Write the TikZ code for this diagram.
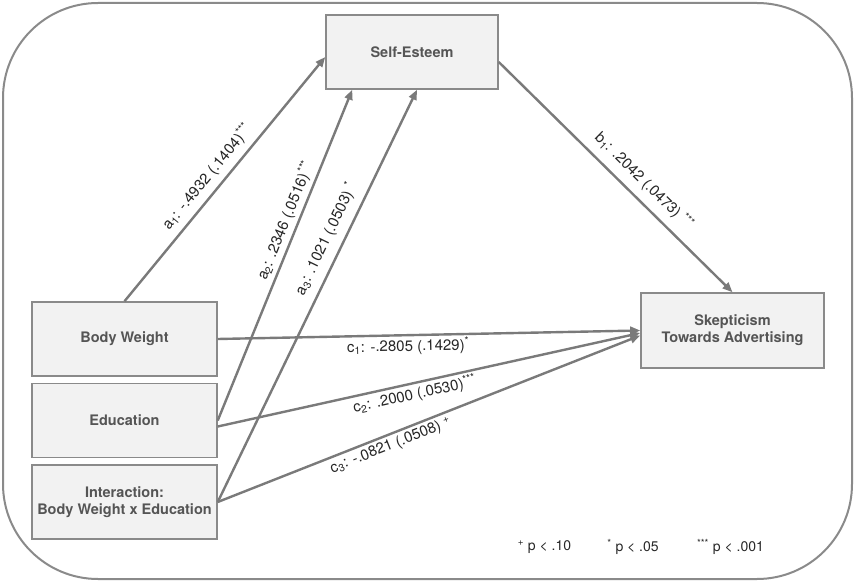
\documentclass[tikz,border=0pt]{standalone}
\usepackage{fontspec}
\setmainfont{TeX Gyre Heros}
\usetikzlibrary{arrows.meta, positioning, calc}
\definecolor{linegray}{RGB}{122, 122, 122}
\definecolor{boxgray}{RGB}{138, 138, 138}
\definecolor{boxfill}{RGB}{242, 242, 242}
\definecolor{labelgray}{RGB}{85, 85, 85}

\begin{document}
\begin{tikzpicture}[x=1pt, y=-1pt,
  varbox/.style={draw=boxgray, fill=boxfill, line width=1.5pt, inner sep=0pt, align=center,
    text=labelgray, font=\fontsize{14.5}{17}\selectfont\bfseries},
  effect/.style={draw=linegray, line width=2.4pt, -{Triangle[length=10pt, width=8pt]}},
  coef/.style={font=\fontsize{15}{17}\selectfont, text=black!85, sloped, inner sep=2pt},
  legend/.style={font=\fontsize{14}{16}\selectfont, text=black!85}
]
  \useasboundingbox (0,0) rectangle (855,583);
  \draw[boxgray, line width=2pt, rounded corners=95pt] (3,3) rectangle (852,579);

  % variables
  \node[varbox, minimum width=172pt, minimum height=74pt] (esteem) at (412,52) {Self-Esteem};
  \node[varbox, minimum width=183pt, minimum height=75pt] (skept) at (732.5,330.5) {Skepticism\\Towards Advertising};
  \node[varbox, minimum width=185pt, minimum height=74pt] (weight) at (124.5,339) {Body Weight};
  \node[varbox, minimum width=185pt, minimum height=74pt, below=6pt of weight] (educ) {Education};
  \node[varbox, minimum width=185pt, minimum height=74pt, below=6pt of educ] (inter) {Interaction:\\Body Weight x Education};

  % a paths
  \draw[effect] (weight.north) -- ($(esteem.west)+(0,5)$)
    node[coef, pos=0.47, above=4pt] {a\textsubscript{1}: -.4932 (.1404)\textsuperscript{***}};
  \draw[effect] (educ.east) -- ($(esteem.south west)+(27,0)$)
    node[coef, pos=0.59, above=1.5pt] {a\textsubscript{2}: .2346 (.0516)\textsuperscript{***}};
  \draw[effect] (inter.east) -- ($(esteem.south)+(5,0)$)
    node[coef, pos=0.62, above=6pt] {a\textsubscript{3}: .1021 (.0503) \textsuperscript{*}};

  % b path
  \draw[effect] ($(esteem.east)+(0,10)$) -- (skept.north)
    node[coef, pos=0.57, above=6pt] {b\textsubscript{1}: .2042 (.0473) \textsuperscript{***}};

  % c paths
  \draw[effect] (weight.east) -- (skept.west)
    node[coef, pos=0.45, below=0pt] {c\textsubscript{1}: -.2805 (.1429)\textsuperscript{*}};
  \draw[effect] ($(educ.east)+(0,6)$) -- ($(skept.west)+(0,2.5)$)
    node[coef, pos=0.46, below=0pt] {c\textsubscript{2}: .2000 (.0530)\textsuperscript{***}};
  \draw[effect] (inter.east) -- ($(skept.west)+(0,5)$)
    node[coef, pos=0.40, below=1pt] {c\textsubscript{3}: -.0821 (.0508) \textsuperscript{+}};

  % significance levels
  \node[legend] (sig10) at (544.5,547) {\textsuperscript{+} p < .10};
  \node[legend] (sig05) at (633,547) {\textsuperscript{*} p < .05};
  \node[legend] (sig001) at (730.5,547) {\textsuperscript{***} p < .001};
\end{tikzpicture}
\end{document}
